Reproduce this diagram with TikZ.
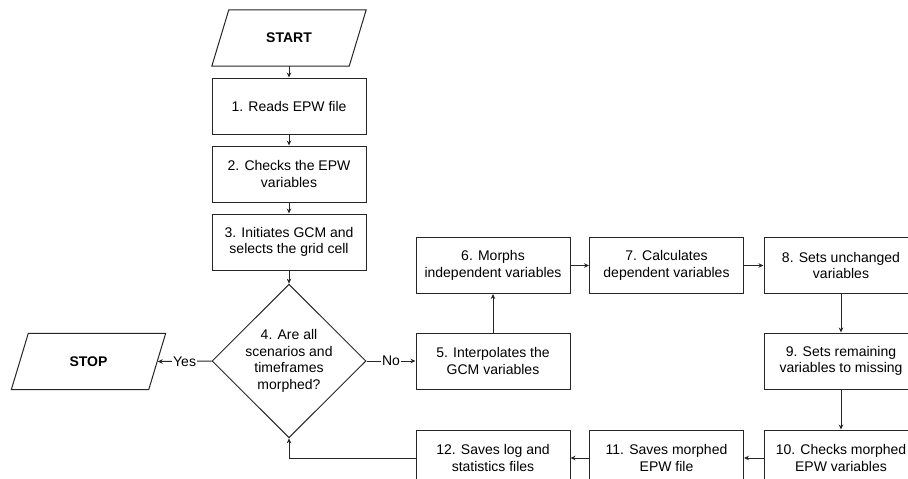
\documentclass[tikz,border=0pt]{standalone}
\usepackage{fontspec}
\setmainfont{Liberation Sans}
\usetikzlibrary{shapes.geometric, arrows.meta}
\newcommand{\chartfont}{\fontsize{14}{16.5}\selectfont}
\tikzstyle{box}=[rectangle, draw=black!85, line width=1pt, minimum width=154pt, minimum height=56pt, align=center, inner sep=2pt]
\tikzstyle{io}=[rectangle, minimum width=154pt, minimum height=56pt, font=\chartfont\bfseries, inner sep=2pt]
\tikzstyle{slanted}=[draw=black!85, line width=1pt, line join=miter]
\tikzstyle{decision}=[diamond, draw=black!85, line width=1pt, minimum width=154pt, minimum height=152pt, align=center, inner sep=1pt]
\tikzstyle{line}=[draw=black!85, line width=1pt, -{Stealth[length=5pt, width=4.5pt]}]
\tikzstyle{answer}=[midway, fill=white, inner sep=1pt]

\begin{document}
\begin{tikzpicture}[x=1pt, y=-1pt, font=\chartfont]
    \fill[white] (0,0) rectangle (908,479);
    \useasboundingbox (0,0) rectangle (908,479);
    \clip (0,0) rectangle (908,479);

    \node[io] (start) at (289,38) {START};
    \node[box] (read) at (289,106) {1. Reads EPW file};
    \node[box] (check) at (289,174) {2. Checks the EPW\\variables};
    \node[box] (init) at (289,242) {3. Initiates GCM and\\selects the grid cell};
    \node[decision] (done) at (289,361) {4. Are all\\scenarios and\\timeframes\\morphed?};
    \node[io] (stop) at (88.5,361.5) {STOP};

    % parallelograms round the start and stop texts
    \foreach \n in {start, stop}
        \draw[slanted] ([xshift=17pt]\n.north west) -- (\n.north east)
            -- ([xshift=-17pt]\n.south east) -- (\n.south west) -- cycle;

    \node[box] (interp) at (493,361) {5. Interpolates the\\GCM variables};
    \node[box] (morph) at (493,265.5) {6. Morphs\\independent variables};
    \node[box] (calc) at (666.5,265.5) {7. Calculates\\dependent variables};
    \node[box] (unch) at (841,265.5) {8. Sets unchanged\\variables};
    \node[box] (miss) at (841,361) {9. Sets remaining\\variables to missing};
    \node[box] (verify) at (841,458) {10. Checks morphed\\EPW variables};
    \node[box] (save) at (666.5,458) {11. Saves morphed\\EPW file};
    \node[box] (logs) at (493,458) {12. Saves log and\\statistics files};

    \draw[line] (start) -- (read);
    \draw[line] (read) -- (check);
    \draw[line] (check) -- (init);
    \draw[line] (init) -- (done);
    \draw[line] (done.west) -- ([xshift=-8pt]stop.east) node[answer] {Yes};
    \draw[line] (done.east) -- (interp) node[answer] {No};
    \draw[line] (interp) -- (morph);
    \draw[line] (morph) -- (calc);
    \draw[line] (calc) -- (unch);
    \draw[line] (unch) -- (miss);
    \draw[line] (miss) -- (verify);
    \draw[line] (verify) -- (save);
    \draw[line] (save) -- (logs);
    \draw[line] (logs.west) -| (done.south);

  \end{tikzpicture}
\end{document}
